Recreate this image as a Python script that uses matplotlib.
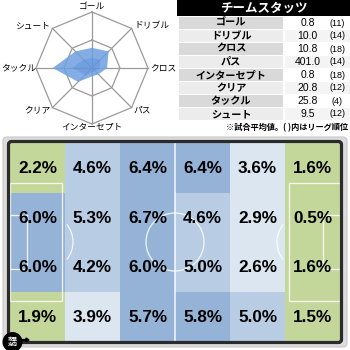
import numpy as np
import matplotlib
matplotlib.use("Agg")
import matplotlib.pyplot as plt
from matplotlib.colors import ListedColormap, BoundaryNorm
from matplotlib.patches import Rectangle, Circle, Arc, FancyBboxPatch, FancyArrow

# ---------------- data ----------------
radar_labels = ["ゴール", "ドリブル", "クロス", "パス", "インターセプト", "クリア", "タックル", "シュート"]
radar_values = [0.36, 0.42, 0.27, 0.16, 0.15, 0.35, 0.70, 0.42]

stat_names = ["ゴール", "ドリブル", "クロス", "パス", "インターセプト", "クリア", "タックル", "シュート"]
stat_values = ["0.8", "10.0", "10.8", "401.0", "0.8", "20.8", "25.8", "9.5"]
stat_ranks = ["(11)", "(14)", "(18)", "(14)", "(18)", "(12)", "(4)", "(12)"]
table_title = "チームスタッツ"
footnote = "※試合平均値。( )内はリーグ順位"

zone_pct = np.array([
    [2.2, 4.6, 6.4, 6.4, 3.6, 1.6],
    [6.0, 5.3, 6.7, 4.6, 2.9, 0.5],
    [6.0, 4.2, 6.0, 5.0, 2.6, 1.6],
    [1.9, 3.9, 5.7, 5.8, 5.0, 1.5],
])
zone_colors = ["#c4d79b", "#dce6f1", "#b8cce4", "#95b3d7"]
zone_bounds = [0, 2.5, 4.0, 5.5, 100]

CJK = ["Noto Sans CJK JP", "DejaVu Sans"]
NUM = ["Liberation Sans", "DejaVu Sans"]

W = H = 350
fig = plt.figure(figsize=(3.5, 3.5), dpi=100)
fig.patch.set_facecolor("white")

def fr(x0, y0, w, h):
    return [x0 / W, 1 - (y0 + h) / H, w / W, h / H]

# background axes in pixel coordinates
bg = fig.add_axes([0, 0, 1, 1])
bg.set_xlim(0, W); bg.set_ylim(H, 0); bg.axis("off")

# ---------------- table ----------------
bg.add_patch(Rectangle((177, 0), 173, 16, facecolor="black", edgecolor="none"))
bg.text(263.5, 8.5, table_title, color="white", fontsize=9, fontweight="bold",
        family=CJK, ha="center", va="center")
row_h = 13.0
y0 = 16.5
for i, (n, v, r) in enumerate(zip(stat_names, stat_values, stat_ranks)):
    yt = y0 + i * row_h
    name_c = "#d9d9d9" if i % 2 == 0 else "#ececec"
    val_c = "#ffffff" if i % 2 == 0 else "#f4f4f4"
    bg.add_patch(Rectangle((179, yt + 0.5), 104, row_h - 1, facecolor=name_c, edgecolor="none"))
    bg.add_patch(Rectangle((285, yt + 0.5), 65, row_h - 1, facecolor=val_c, edgecolor="none"))
    yc = yt + row_h / 2
    bg.text(231, yc, n, fontsize=7.3, fontweight="bold", family=CJK, ha="center", va="center")
    bg.text(307.5, yc, v, fontsize=7.5, family=NUM, ha="center", va="center")
    bg.text(337, yc, r, fontsize=6.5, family=NUM, ha="center", va="center")
bg.text(348, 128, footnote, fontsize=5.9, fontweight="bold", family=CJK, ha="right", va="center")

# outer grey frame of pitch
bg.add_patch(FancyBboxPatch((3, 137), 344, 210, boxstyle="round,pad=0,rounding_size=4",
                            facecolor="#dcdcdc", edgecolor="#c8c8c8", lw=0.8))

# ---------------- radar ----------------
cx, cy, R = 92, 68, 56
rad = fig.add_axes(fr(cx - R, cy - R, 2 * R, 2 * R), projection="polar")
rad.set_theta_zero_location("N")
rad.set_theta_direction(-1)
rad.set_ylim(0, 1)
rad.set_xticks([]); rad.set_yticks([])
rad.grid(False)
rad.spines["polar"].set_visible(False)
rad.patch.set_alpha(0)
N = len(radar_labels)
theta = np.arange(N) * 2 * np.pi / N
tc = np.append(theta, theta[0])
for rr in (0.5, 1.0):
    rad.plot(tc, [rr] * (N + 1), color="#9a9a9a", lw=0.9, clip_on=False)
for t in theta:
    rad.plot([t, t], [0, 1], color="#9a9a9a", lw=0.9, clip_on=False)
vals = np.append(radar_values, radar_values[0])
rad.fill(tc, vals, color="#6f9fe0", alpha=0.85, lw=0, zorder=3)
rad.fill(tc, vals * 0.5, color="#4f86d6", alpha=0.35, lw=0, zorder=3)
lab_pos = [(1.1, "center", "center"), (1.06, "left", "center"), (1.04, "left", "center"),
           (1.05, "left", "center"), (1.06, "center", "center"), (1.05, "right", "center"),
           (1.0, "right", "center"), (1.06, "right", "center")]
for t, lab, (rr, ha, va) in zip(theta, radar_labels, lab_pos):
    rad.text(t, rr, lab, fontsize=6.3, family=CJK, ha=ha, va=va, clip_on=False)

# ---------------- pitch ----------------
PX, PY, PW, PH = 10, 143, 330, 198
pa = fig.add_axes(fr(PX, PY, PW, PH))
pa.set_xlim(0, PW); pa.set_ylim(PH, 0); pa.axis("off")
cmap = ListedColormap(zone_colors)
norm = BoundaryNorm(zone_bounds, cmap.N)
nr, nc = zone_pct.shape
xe = np.linspace(0, PW, nc + 1)
ye = np.linspace(0, PH, nr + 1)
pa.pcolormesh(xe, ye, zone_pct, cmap=cmap, norm=norm, shading="flat")

lc = dict(color="white", lw=0.9, alpha=0.85, fill=False)
mid_y = PH / 2
pa.plot([PW / 2, PW / 2], [0, PH], color="white", lw=1.1, alpha=0.9)
pa.add_patch(Circle((PW / 2, mid_y), 29, **lc))
pa.add_patch(Rectangle((0, 40), 52, 118, **lc))
pa.add_patch(Rectangle((PW - 51, 40), 51, 118, **lc))
pa.add_patch(Rectangle((0, 72), 17, 54, **lc))
pa.add_patch(Rectangle((PW - 17, 72), 17, 54, **lc))
pa.add_patch(Arc((35, mid_y), 56, 56, theta1=-39, theta2=39, color="white", lw=0.9, alpha=0.85))
pa.add_patch(Arc((PW - 35, mid_y), 56, 56, theta1=141, theta2=219, color="white", lw=0.9, alpha=0.85))
for (x, y, a1) in [(0, 0, 270), (PW, 0, 180), (0, PH, 0), (PW, PH, 90)]:
    pa.add_patch(Arc((x, y), 8, 8, theta1=a1, theta2=a1 + 90, color="white", lw=0.9, alpha=0.85))

for i in range(nr):
    for j in range(nc):
        pa.text((xe[j] + xe[j + 1]) / 2, (ye[i] + ye[i + 1]) / 2 + 1, f"{zone_pct[i, j]:.1f}%",
                fontsize=12.3, fontweight="bold", family=NUM, ha="center", va="center")

# ---------------- overlay: border + attack icon ----------------
ov = fig.add_axes([0, 0, 1, 1])
ov.set_xlim(0, W); ov.set_ylim(H, 0); ov.axis("off")
ov.patch.set_alpha(0)
ov.add_patch(FancyBboxPatch((8.5, 141.5), 333, 201, boxstyle="round,pad=0,rounding_size=3",
                            facecolor="none", edgecolor="#2b2b2b", lw=2.3))
ov.add_patch(FancyArrow(20, 340, 9, 0, width=0.8, head_width=4, head_length=3,
                        length_includes_head=True, color="black"))
ov.add_patch(Circle((12.5, 342), 10, facecolor="black", edgecolor="none"))
ov.text(12.5, 342, "攻撃\n方向", color="white", fontsize=3.6, family=CJK,
        ha="center", va="center", linespacing=0.9, fontweight="bold")

fig.savefig("out.png", dpi=100)
